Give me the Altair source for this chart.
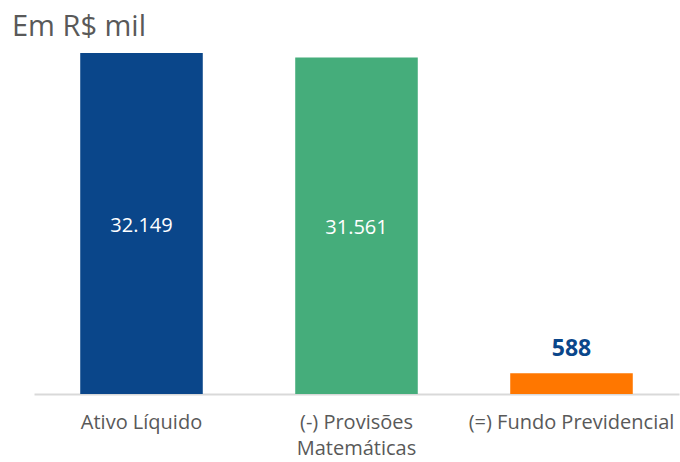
import altair as alt
import pandas as pd

categories = ["Ativo Líquido", "(-) Provisões Matemáticas", "(=) Fundo Previdencial"]
values = [32149, 31561, 588]
labels = ["32.149", "31.561", "588"]
colors = ["#0a468a", "#45ad7b", "#ff7700"]
inside = [True, True, False]

df = pd.DataFrame({"cat": categories, "value": values, "label": labels, "inside": inside})

EXP = 0.7
ysc = alt.Scale(type="pow", exponent=EXP, domain=[0, 32149], nice=False, zero=True)
xenc = alt.X("cat:N", sort=categories, title=None,
             scale=alt.Scale(paddingInner=0.43, paddingOuter=0.215),
             axis=alt.Axis(labelExpr="datum.value == '(-) Provisões Matemáticas' ? ['(-) Provisões', 'Matemáticas'] : datum.value",
                           labelAngle=0, labelFontSize=20, labelFont="Open Sans", labelColor="#595959",
                           labelPadding=18, labelLineHeight=26, ticks=False, labelLimit=400,
                           domainColor="#d9d9d9", domainWidth=2, labelBaseline="top"))

base = alt.Chart(df)
bars = base.mark_bar().encode(
    x=xenc,
    y=alt.Y("value:Q", scale=ysc, axis=None),
    color=alt.Color("cat:N", scale=alt.Scale(domain=categories, range=colors), legend=None),
)
txt_in = base.transform_filter("datum.inside").transform_calculate(
    mid=f"pow(pow(datum.value, {EXP}) / 2, {1/EXP})"
).mark_text(color="white", fontSize=20, font="Open Sans", baseline="middle", dy=2).encode(
    x=alt.X("cat:N", sort=categories), y=alt.Y("mid:Q", scale=ysc), text="label:N")
txt_out = base.transform_filter("!datum.inside").mark_text(
    color="#0a468a", fontSize=23, font="Open Sans", fontWeight="bold", baseline="middle", dy=-24
).encode(x=alt.X("cat:N", sort=categories), y=alt.Y("value:Q", scale=ysc), text="label:N")

chart = alt.layer(bars, txt_in, txt_out).properties(
    width=645, height=341,
    autosize=alt.AutoSizeParams(type="none"),
    padding={"left": 34, "top": 53, "right": 1, "bottom": 68},
    title=alt.TitleParams("Em R$ mil", anchor="start", frame="group", fontSize=29, font="Open Sans",
                          fontWeight="normal", color="#595959", baseline="alphabetic", offset=20, dx=-22, dy=32),
    background="white",
).configure_view(stroke=None)

chart.save("out.html", embed_options={"renderer": "svg", "actions": False})
